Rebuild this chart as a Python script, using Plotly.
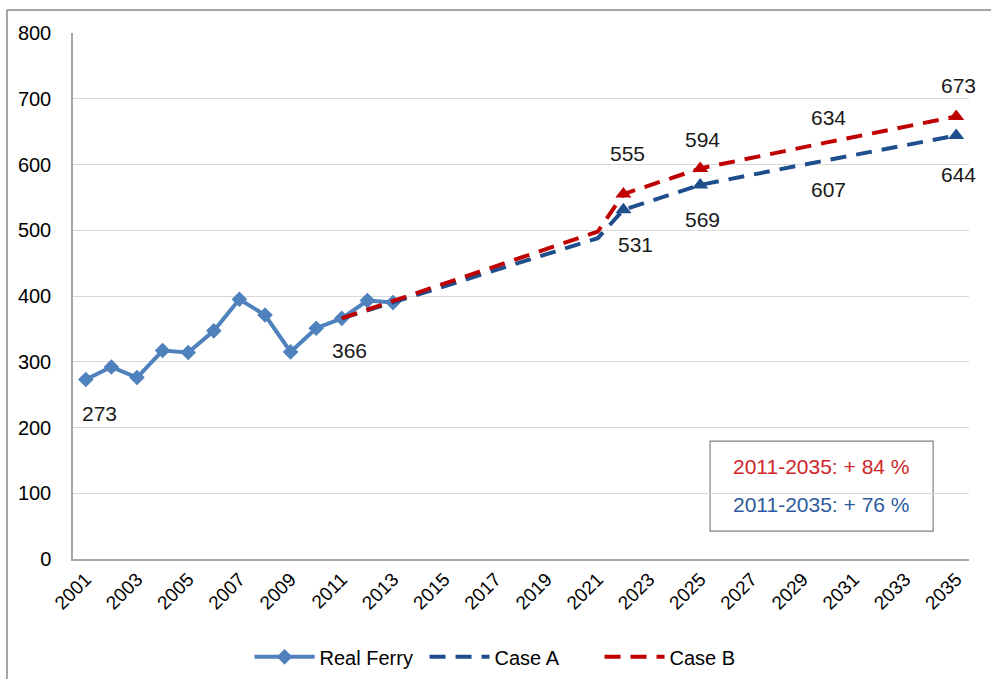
import plotly.graph_objects as go

# ---- data ----
ferry_years = [2001, 2002, 2003, 2004, 2005, 2006, 2007, 2008, 2009, 2010, 2011, 2012, 2013]
ferry_vals = [273, 292, 276, 317, 314, 347, 395, 371, 315, 351, 366, 393, 390]

case_years = [2011, 2021, 2022, 2025, 2030, 2035]
case_a_vals = [366, 488, 531, 569, 607, 644]
case_b_vals = [366, 498, 555, 594, 634, 673]
marker_years = [2022, 2025, 2035]

tick_years = list(range(2001, 2036, 2))
y_ticks = list(range(0, 801, 100))

box_line_b = "2011-2035: + 84 %"
box_line_a = "2011-2035: + 76 %"

# ---- style ----
FONT = "Liberation Sans, Arial, sans-serif"
C_FERRY = "#4F81BD"
C_A = "#1F4E8C"
C_B = "#C00000"

fig = go.Figure()

fig.add_trace(go.Scatter(
    x=ferry_years, y=ferry_vals, name="Real Ferry", mode="lines+markers",
    line=dict(color=C_FERRY, width=4),
    marker=dict(symbol="diamond", size=12, color=C_FERRY),
))
for name, vals, col in [("Case A", case_a_vals, C_A), ("Case B", case_b_vals, C_B)]:
    fig.add_trace(go.Scatter(
        x=case_years, y=vals, name=name, mode="lines",
        line=dict(color=col, width=4, dash="16px,10px"),
    ))
for name, vals, col in [("Case A", case_a_vals, C_A), ("Case B", case_b_vals, C_B)]:
    mx = [y for y in case_years if y in marker_years]
    my = [v for y, v in zip(case_years, vals) if y in marker_years]
    fig.add_trace(go.Scatter(
        x=mx, y=my, name=name, mode="markers", showlegend=False,
        marker=dict(symbol="triangle-up", size=14, color=col),
    ))

annots = []
def lab(x, y, xs, ys):
    annots.append(dict(x=x, y=y, text=str(y), showarrow=False, xshift=xs, yshift=ys,
                       font=dict(family=FONT, size=21, color="#1a1a1a")))

lab(ferry_years[0], ferry_vals[0], 14, -34)
lab(ferry_years[10], ferry_vals[10], 8, -32)
b_shifts = {2022: (4, 41), 2025: (2, 29), 2030: (0, 25), 2035: (2, 31)}
a_shifts = {2022: (12, -35), 2025: (2, -35), 2030: (0, -30), 2035: (2, -39)}
for yr, va, vb in zip(case_years, case_a_vals, case_b_vals):
    if yr in b_shifts:
        lab(yr, vb, *b_shifts[yr])
        lab(yr, va, *a_shifts[yr])

annots.append(dict(xref="paper", yref="paper", x=0.8355, y=0.175, xanchor="center", yanchor="middle",
                   text=box_line_b, showarrow=False,
                   font=dict(family=FONT, size=21, color="#D0262A")))
annots.append(dict(xref="paper", yref="paper", x=0.8355, y=0.103, xanchor="center", yanchor="middle",
                   text=box_line_a, showarrow=False,
                   font=dict(family=FONT, size=21, color="#2E5C9E")))

shapes = [
    dict(type="rect", xref="paper", yref="paper", x0=0.711, x1=0.960, y0=0.053, y1=0.224,
         line=dict(color="#808080", width=1.2), fillcolor="white", layer="below"),
    dict(type="line", xref="paper", yref="paper", x0=-0.0737, x1=1.03, y0=1.0437, y1=1.0437,
         line=dict(color="#8c8680", width=1.5)),
    dict(type="line", xref="paper", yref="paper", x0=-0.0737, x1=-0.0737, y0=1.0437, y1=-0.25,
         line=dict(color="#8c8680", width=1.5)),
]

fig.update_layout(
    width=991, height=679,
    margin=dict(l=73, r=22, t=33, b=120, autoexpand=False),
    paper_bgcolor="white", plot_bgcolor="white",
    font=dict(family=FONT, size=19, color="#000000"),
    showlegend=True,
    legend=dict(orientation="h", x=0.49, xanchor="center", y=-0.186, yanchor="middle",
                font=dict(family=FONT, size=20), itemwidth=60, entrywidth=100),
    annotations=annots,
    shapes=shapes,
)
fig.update_xaxes(
    range=[2000.5, 2035.5], tickmode="array", tickvals=tick_years,
    ticktext=[str(t) for t in tick_years], tickangle=-45,
    showgrid=False, zeroline=False, showline=True, linecolor="#a6a6a6", linewidth=1.5,
    ticks="", tickfont=dict(family=FONT, size=19), automargin=False,
)
fig.update_yaxes(
    range=[0, 800], tickmode="array", tickvals=y_ticks,
    showgrid=True, gridcolor="#d9d9d9", gridwidth=1, zeroline=False,
    showline=True, linecolor="#a6a6a6", linewidth=1.5, ticks="",
    tickfont=dict(family=FONT, size=20), ticklabelstandoff=16, automargin=False,
)

fig.write_html("out.html", config={"displayModeBar": False},
               post_script="document.body.style.margin='0';")
